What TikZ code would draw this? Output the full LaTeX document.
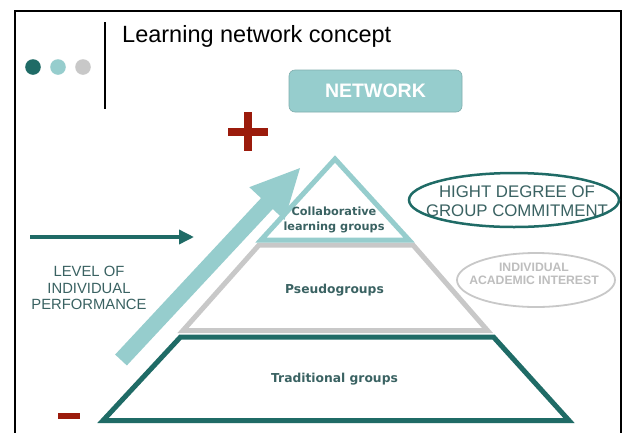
\documentclass[tikz,border=0pt]{standalone}
\usepackage{fontspec}
\setmainfont{Liberation Sans}
\newfontfamily\dvb{DejaVu Sans}[BoldFont={DejaVu Sans Bold}]
\usetikzlibrary{arrows.meta,shapes.geometric}
\definecolor{dteal}{RGB}{31,107,102}
\definecolor{lteal}{RGB}{150,205,205}
\definecolor{lgray}{RGB}{200,200,200}
\definecolor{dred}{RGB}{155,27,12}
\definecolor{tteal}{RGB}{58,98,98}
\definecolor{tgray}{RGB}{190,190,190}
\tikzset{
  lbl/.style={text=tteal,font=\dvb\bfseries\fontsize{12.3}{14}\selectfont,inner sep=0pt},
  side/.style={text=tteal,font=\fontsize{14.8}{16.5}\selectfont,align=center,inner sep=0pt},
  tier/.style={line width=5pt,line join=miter,fill=white},
}
\begin{document}
\begin{tikzpicture}[x=1pt,y=-1pt]
\useasboundingbox (0,0) rectangle (624,432);
\fill[white] (0,0) rectangle (624,432);
% frame
\draw[line width=2pt] (15,434) -- (15,11) -- (621,11) -- (621,434);
% dots and divider
\fill[dteal] (33,67) circle (7.8pt);
\fill[lteal] (58,67) circle (7.8pt);
\fill[lgray] (83,67) circle (7.8pt);
\draw[line width=1.8pt] (105,22) -- (105,109);
\node[anchor=base west,inner sep=0pt,font=\fontsize{23.5}{26}\selectfont] (title) at (122,42) {Learning network concept};
% network box
\node[draw=lteal!85!black,line width=0.6pt,fill=lteal,rounded corners=6pt,minimum width=173pt,minimum height=42pt,inner sep=0pt,text=white,font=\bfseries\fontsize{19.5}{22}\selectfont] (net) at (375.5,91) {NETWORK};
% plus and minus
\fill[dred] (228,128) rectangle (268,136);
\fill[dred] (244,112) rectangle (252,151);
\fill[dred] (58,413) rectangle (80,419);
% pyramid
\draw[tier,draw=dteal] (180.5,337) -- (493.5,337) -- (569,420.5) -- (103,420.5) -- cycle;
\draw[tier,draw=lgray] (259,245) -- (413,245) -- (487.5,330.5) -- (183,330.5) -- cycle;
\draw[tier,draw=lteal] (335,159) -- (409,240) -- (261,240) -- cycle;
\node[lbl,font=\dvb\bfseries\fontsize{11.3}{15}\selectfont,align=center] (collab) at (334,220) {Collaborative\\learning groups};
\node[lbl] (pseudo) at (334.5,290) {Pseudogroups};
\node[lbl] (trad) at (334.5,379) {Traditional groups};
% big arrow
\coordinate (bt) at (121,360);
\coordinate (bh) at (301,167);
\draw[lteal,line width=16pt,-{Triangle[length=50pt,width=44pt]}] (bt) -- (bh);
% level arrow
\coordinate (lt) at (30,237);
\coordinate (lh) at (194,237);
\draw[dteal,line width=3.5pt,-{Triangle[length=15pt,width=14pt]}] (lt) -- (lh);
\node[side] (level) at (89,288) {LEVEL OF\\INDIVIDUAL\\PERFORMANCE};
% ellipses
\node[inner sep=0pt,align=center,text=tteal,font=\fontsize{16.8}{18.5}\selectfont] (commit) at (517,201) {HIGHT DEGREE OF\\GROUP COMMITMENT};
\draw[dteal,line width=2.5pt] (514,200) ellipse [x radius=105pt, y radius=27pt];
\node[inner sep=0pt,align=center,text=tgray,font=\bfseries\fontsize{12.2}{13.5}\selectfont] (acad) at (534,274) {INDIVIDUAL\\ACADEMIC INTEREST};
\draw[lgray,line width=1.8pt] (536,280) ellipse [x radius=79pt, y radius=27pt];
\end{tikzpicture}
\end{document}
